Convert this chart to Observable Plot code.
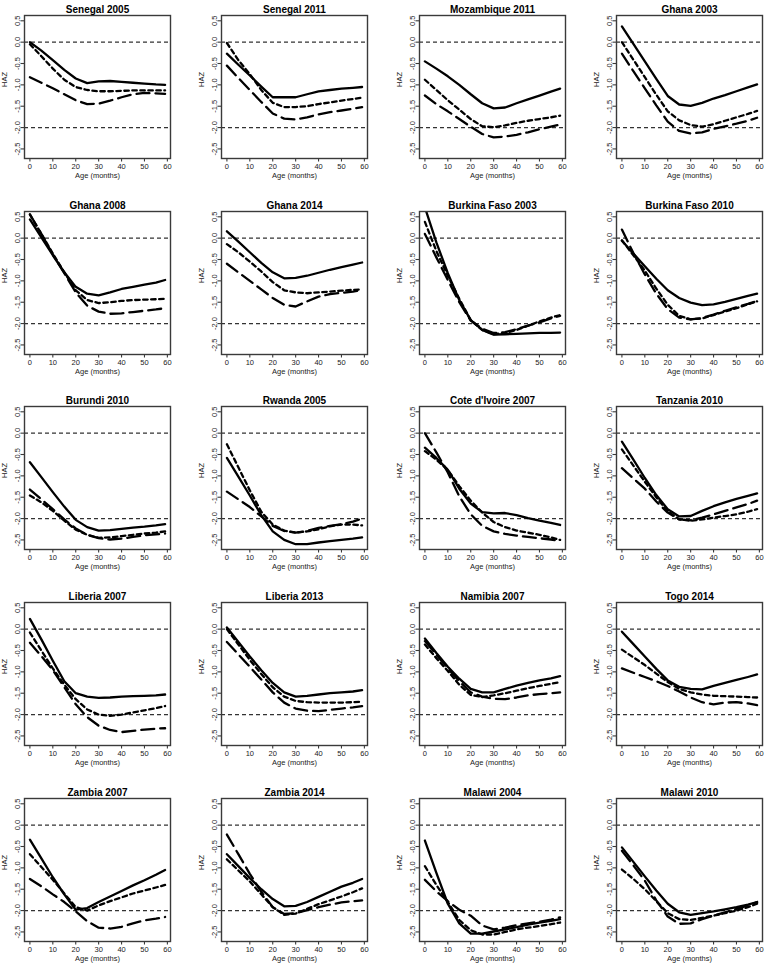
<!DOCTYPE html>
<html>
<head>
<meta charset="utf-8">
<script src="https://cdn.jsdelivr.net/npm/d3@7"></script>
<script src="https://cdn.jsdelivr.net/npm/@observablehq/plot@0.6"></script>
<style>
  html, body { margin: 0; padding: 0; background: #fff; }
  #grid { position: relative; width: 764px; height: 964px; overflow: hidden; }
  #grid > svg { position: absolute; overflow: visible; }
</style>
</head>
<body>
<div id="grid"></div>
<script>
// ---- data ----
const ages = [0, 5, 10, 15, 20, 25, 30, 35, 40, 45, 50, 55, 59];
const xTicks = [0, 10, 20, 30, 40, 50, 60];
const yTicks = [0.5, 0, -0.5, -1, -1.5, -2, -2.5];
const refLines = [0, -2];

const titles = [
  "Senegal 2005", "Senegal 2011", "Mozambique 2011", "Ghana 2003",
  "Ghana 2008", "Ghana 2014", "Burkina Faso 2003", "Burkina Faso 2010",
  "Burundi 2010", "Rwanda 2005", "Cote d'Ivoire 2007", "Tanzania 2010",
  "Liberia 2007", "Liberia 2013", "Namibia 2007", "Togo 2014",
  "Zambia 2007", "Zambia 2014", "Malawi 2004", "Malawi 2010"
];

// solid line series (HAZ by age)
const solidSeries = [
  [0.0, -0.2, -0.42, -0.65, -0.85, -0.96, -0.92, -0.91, -0.93, -0.95, -0.97, -0.99, -1.0],
  [-0.27, -0.53, -0.78, -1.04, -1.29, -1.29, -1.29, -1.22, -1.15, -1.12, -1.09, -1.07, -1.05],
  [-0.45, -0.62, -0.8, -1.0, -1.22, -1.43, -1.55, -1.53, -1.43, -1.34, -1.25, -1.16, -1.09],
  [0.37, -0.04, -0.45, -0.86, -1.26, -1.46, -1.49, -1.42, -1.32, -1.24, -1.15, -1.06, -0.99],
  [0.44, 0.02, -0.4, -0.8, -1.14, -1.3, -1.34, -1.27, -1.19, -1.14, -1.09, -1.04, -0.98],
  [0.16, -0.08, -0.33, -0.58, -0.8, -0.94, -0.93, -0.88, -0.81, -0.74, -0.68, -0.62, -0.57],
  [0.72, -0.1, -0.82, -1.45, -1.92, -2.15, -2.26, -2.25, -2.24, -2.23, -2.22, -2.22, -2.21],
  [-0.06, -0.36, -0.66, -0.95, -1.22, -1.4, -1.51, -1.57, -1.55, -1.49, -1.42, -1.35, -1.3],
  [-0.68, -1.03, -1.38, -1.72, -2.03, -2.2, -2.28, -2.27, -2.24, -2.21, -2.19, -2.16, -2.13],
  [-0.58, -1.02, -1.46, -1.92, -2.3, -2.5, -2.6, -2.6, -2.56, -2.53, -2.5, -2.47, -2.44],
  [-0.34, -0.58, -0.86, -1.3, -1.65, -1.85, -1.88, -1.87, -1.92, -1.99, -2.05, -2.1, -2.15],
  [-0.2, -0.62, -1.05, -1.45, -1.78, -1.95, -1.94, -1.82, -1.71, -1.62, -1.54, -1.47, -1.41],
  [0.24, -0.24, -0.74, -1.22, -1.5, -1.58, -1.61, -1.6, -1.58, -1.57, -1.56, -1.55, -1.53],
  [0.04, -0.3, -0.64, -0.96, -1.26, -1.48, -1.58, -1.56, -1.53, -1.5, -1.48, -1.46, -1.43],
  [-0.22, -0.56, -0.88, -1.16, -1.4, -1.48, -1.48, -1.4, -1.32, -1.26, -1.2, -1.15, -1.1],
  [-0.06, -0.35, -0.64, -0.93, -1.2, -1.35, -1.4, -1.41, -1.33, -1.26, -1.19, -1.12, -1.06],
  [-0.34, -0.78, -1.22, -1.62, -1.98, -1.94, -1.8, -1.67, -1.54, -1.41, -1.29, -1.16, -1.05],
  [-0.68, -0.96, -1.24, -1.5, -1.73, -1.9, -1.89, -1.8, -1.68, -1.56, -1.44, -1.35, -1.26],
  [-0.36, -1.12, -1.84, -2.3, -2.54, -2.54, -2.49, -2.44, -2.39, -2.33, -2.28, -2.24, -2.2],
  [-0.52, -0.86, -1.2, -1.53, -1.84, -2.04, -2.1, -2.06, -2.02, -1.97, -1.92, -1.86, -1.8]
];

// short-dashed series
const shortDashSeries = [
  [-0.05, -0.33, -0.62, -0.88, -1.05, -1.12, -1.15, -1.15, -1.14, -1.13, -1.13, -1.13, -1.13],
  [-0.02, -0.42, -0.75, -1.12, -1.42, -1.52, -1.52, -1.5, -1.45, -1.41, -1.37, -1.33, -1.3],
  [-0.88, -1.12, -1.36, -1.58, -1.8, -1.97, -1.99, -1.95, -1.89, -1.84, -1.8, -1.76, -1.72],
  [0.0, -0.41, -0.82, -1.23, -1.62, -1.83, -1.94, -1.98, -1.92, -1.84, -1.76, -1.68, -1.61],
  [0.55, 0.1, -0.36, -0.8, -1.22, -1.45, -1.52, -1.5, -1.47, -1.45, -1.44, -1.43, -1.42],
  [-0.14, -0.33, -0.55, -0.78, -1.03, -1.22, -1.27, -1.29, -1.27, -1.25, -1.23, -1.21, -1.2],
  [0.38, -0.3, -0.88, -1.42, -1.92, -2.15, -2.25, -2.22, -2.15, -2.05, -1.95, -1.86, -1.8],
  [-0.05, -0.4, -0.76, -1.18, -1.56, -1.82, -1.9, -1.88, -1.8, -1.72, -1.64, -1.55, -1.48],
  [-1.46, -1.62, -1.82, -2.05, -2.26, -2.38, -2.45, -2.44, -2.41, -2.38, -2.35, -2.33, -2.3],
  [-0.26, -0.8, -1.34, -1.84, -2.14, -2.28, -2.33, -2.3, -2.25, -2.18, -2.14, -2.14, -2.16],
  [-0.42, -0.62, -0.86, -1.24, -1.58, -1.86, -2.08, -2.2, -2.28, -2.33, -2.38, -2.44, -2.5],
  [-0.38, -0.76, -1.14, -1.5, -1.83, -2.02, -2.05, -2.02, -1.98, -1.94, -1.9, -1.84, -1.78],
  [-0.08, -0.5, -0.92, -1.3, -1.64, -1.88, -2.0, -2.03, -2.0, -1.95, -1.9, -1.85, -1.8],
  [0.0, -0.36, -0.72, -1.05, -1.36, -1.58, -1.68, -1.71, -1.72, -1.72, -1.72, -1.71, -1.7],
  [-0.36, -0.68, -0.98, -1.3, -1.54, -1.59, -1.55, -1.5, -1.44, -1.38, -1.33, -1.28, -1.24],
  [-0.48, -0.66, -0.84, -1.04, -1.24, -1.4, -1.48, -1.53, -1.56, -1.57, -1.58, -1.59, -1.6],
  [-0.68, -0.98, -1.28, -1.6, -1.92, -2.0, -1.88, -1.78, -1.69, -1.6, -1.53, -1.46, -1.4],
  [-0.8, -1.06, -1.32, -1.62, -1.92, -2.1, -2.07, -1.96, -1.85, -1.76, -1.67, -1.57, -1.48],
  [-0.96, -1.4, -1.8, -2.22, -2.46, -2.56, -2.56, -2.5, -2.44, -2.4, -2.36, -2.32, -2.28],
  [-1.04, -1.26, -1.5, -1.78, -2.06, -2.2, -2.22, -2.17, -2.12, -2.06, -2.0, -1.92, -1.84]
];

// long-dashed series
const longDashSeries = [
  [-0.82, -0.95, -1.08, -1.22, -1.36, -1.45, -1.44, -1.37, -1.29, -1.22, -1.19, -1.2, -1.21],
  [-0.55, -0.84, -1.12, -1.4, -1.67, -1.79, -1.81, -1.76, -1.69, -1.64, -1.6, -1.56, -1.52],
  [-1.25, -1.45, -1.62, -1.8, -1.98, -2.15, -2.23, -2.21, -2.17, -2.11, -2.04, -1.98, -1.93],
  [-0.27, -0.68, -1.08, -1.48, -1.86, -2.08, -2.14, -2.11, -2.03, -1.97, -1.91, -1.84, -1.77],
  [0.56, 0.1, -0.38, -0.82, -1.27, -1.58, -1.72, -1.77, -1.76, -1.73, -1.7, -1.67, -1.64],
  [-0.6, -0.8, -1.0, -1.2, -1.4, -1.56, -1.6, -1.48, -1.37, -1.31, -1.28, -1.25, -1.22],
  [0.1, -0.45, -0.98, -1.5, -1.93, -2.12, -2.22, -2.2, -2.13, -2.05, -1.97, -1.88, -1.82],
  [0.2, -0.35, -0.85, -1.3, -1.66, -1.86, -1.9, -1.87, -1.79, -1.7, -1.62, -1.54, -1.47],
  [-1.32, -1.55, -1.78, -2.02, -2.23, -2.38, -2.46, -2.49, -2.47, -2.43, -2.39, -2.37, -2.35],
  [-1.37, -1.55, -1.73, -1.95, -2.17, -2.29, -2.33, -2.29, -2.22, -2.17, -2.13, -2.07, -2.0],
  [0.0, -0.45, -0.92, -1.48, -1.9, -2.17, -2.3, -2.36, -2.4, -2.43, -2.46, -2.49, -2.52],
  [-0.82, -1.06, -1.3, -1.6, -1.86, -2.02, -2.04, -1.98, -1.9, -1.82, -1.74, -1.66, -1.58],
  [-0.32, -0.63, -0.96, -1.36, -1.76, -2.06, -2.26, -2.36, -2.41, -2.38, -2.35, -2.33, -2.32],
  [-0.3, -0.59, -0.88, -1.18, -1.48, -1.72, -1.86, -1.91, -1.92, -1.89, -1.86, -1.83, -1.8],
  [-0.28, -0.6, -0.92, -1.22, -1.48, -1.58, -1.63, -1.64, -1.6, -1.55, -1.52, -1.5, -1.48],
  [-0.92, -1.02, -1.12, -1.22, -1.33, -1.46, -1.6, -1.71, -1.76, -1.72, -1.71, -1.74, -1.78],
  [-1.26, -1.43, -1.62, -1.8, -2.02, -2.25, -2.4, -2.42, -2.38, -2.3, -2.23, -2.19, -2.15],
  [-0.22, -0.68, -1.14, -1.56, -1.92, -2.08, -2.06, -1.99, -1.92, -1.86, -1.81, -1.78, -1.76],
  [-1.28, -1.55, -1.78, -1.98, -2.12, -2.35, -2.44, -2.4, -2.34, -2.3, -2.26, -2.21, -2.16],
  [-0.6, -0.94, -1.3, -1.76, -2.14, -2.31, -2.3, -2.2, -2.12, -2.04, -1.96, -1.88, -1.8]
];

// ---- drawing ----
const grid = document.getElementById("grid");
const colPitch = 197.3, rowPitch = 195.7;
const font = "'Liberation Sans', Arial, Helvetica, sans-serif";
const xDomain = [-2.36, 61.36];
const yDomain = [-2.724, 0.624];
const toRows = vals => ages.map((a, i) => ({age: a, haz: vals[i]}));
const lineOpts = {x: "age", y: "haz", stroke: "#000", strokeWidth: 2.3, strokeLinejoin: "round", clip: true};

titles.forEach((title, i) => {
  const col = i % 4, row = Math.floor(i / 4);
  const svg = Plot.plot({
    width: 197, height: 196,
    marginLeft: 24, marginRight: 27, marginTop: 15, marginBottom: 38,
    style: {fontFamily: font, fontSize: "7.5px", color: "#222", background: "transparent"},
    x: {domain: xDomain},
    y: {domain: yDomain},
    marks: [
      Plot.ruleY(refLines, {stroke: "#333", strokeWidth: 1.2, strokeDasharray: "4,3"}),
      Plot.line(toRows(solidSeries[i]), {...lineOpts}),
      Plot.line(toRows(shortDashSeries[i]), {...lineOpts, strokeDasharray: "4.5,3.5"}),
      Plot.line(toRows(longDashSeries[i]), {...lineOpts, strokeDasharray: "13,6"}),
      // plot box
      Plot.frame({stroke: "#3a3a3a", strokeWidth: 1.4}),
      Plot.axisX({ticks: xTicks, tickSize: 3.5, tickPadding: 1.5, label: null, stroke: "#3a3a3a", strokeWidth: 1.1, fill: "#222"}),
      Plot.axisY({ticks: yTicks, tickFormat: d => d.toFixed(1), tickSize: 3.5, tickPadding: 1,
                  tickRotate: -90, textAnchor: "middle", lineAnchor: "bottom",
                  label: null, stroke: "#3a3a3a", strokeWidth: 1.1, fill: "#222"}),
      Plot.text(["Age (months)"], {frameAnchor: "bottom", dy: 19, fill: "#222"}),
      Plot.text(["HAZ"], {frameAnchor: "left", dx: -20, rotate: -90, fill: "#222"}),
      Plot.text([title], {frameAnchor: "top", dy: -10, fontWeight: "bold", fontSize: 10, fill: "#000"})
    ]
  });
  svg.style.left = Math.round(col * colPitch) + "px";
  svg.style.top = Math.round(row * rowPitch) + "px";
  grid.appendChild(svg);
});
</script>
</body>
</html>
